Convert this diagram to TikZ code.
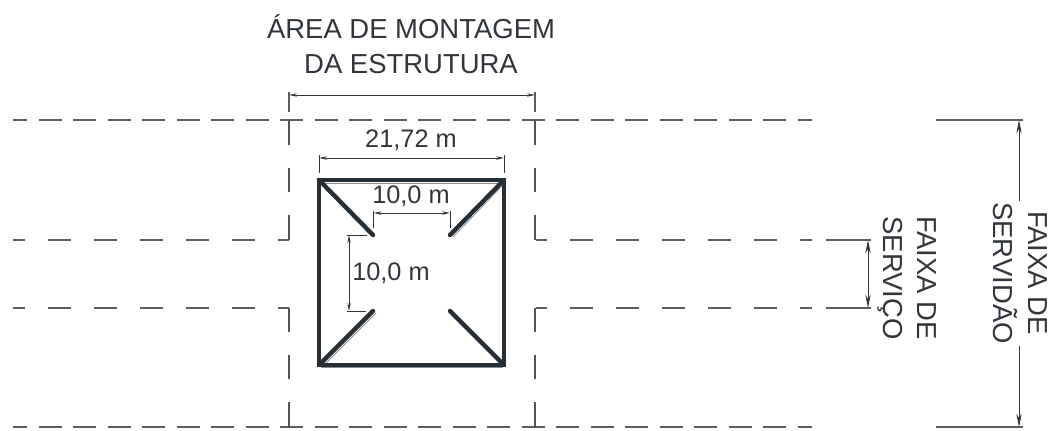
\documentclass[tikz,border=0pt]{standalone}
\usepackage{fontspec}
\setmainfont{Liberation Sans}
\usetikzlibrary{arrows.meta}
\definecolor{inkdark}{HTML}{262E36}
\definecolor{inkdim}{HTML}{30363C}
\definecolor{inkgrey}{HTML}{8A8D90}
\tikzset{
  limitline/.style={line width=0.85pt,color=inkdim!80},
  fence/.style={line width=0.85pt,color=inkdim!85,dash pattern=on 18.4pt off 17.25pt},
  longdash/.style={limitline,dash pattern=on 17.25pt off 17.25pt,dash phase=8.25pt},
  shortdash/.style={limitline,dash pattern=on 17.25pt off 8.625pt,dash phase=6.75pt},
  dimline/.style={line width=0.65pt,color=inkdim},
  dimtip/.style={dimline,{Stealth[length=6pt,width=2.6pt,open,fill=white]}-{Stealth[length=6pt,width=2.6pt,open,fill=white]}},
  bigtip/.style={dimline,{Stealth[length=10pt,width=4pt]}-{Stealth[length=10pt,width=4pt]}},
  tower/.style={line width=3.3pt,color=inkdark,line cap=round},
  thinedge/.style={line width=0.6pt,color=inkgrey},
  dimtext/.style={text=inkdim,font=\fontsize{19}{23}\selectfont,inner sep=0pt},
  bigtext/.style={text=inkdim,font=\fontsize{20.6}{26}\selectfont,align=center,inner sep=0pt},
}
\begin{document}
\begin{tikzpicture}[x=0.75pt,y=-0.75pt]
\useasboundingbox (0,0) rectangle (1056,430);

% faixa de servidao
\foreach \y in {120,427}
{
  \draw[shortdash] (13,\y) -- (812,\y);
  \draw[limitline] (936,\y) -- (1023,\y);
}

% faixa de servico
\foreach \y in {240,308}
{
  \draw[longdash] (13,\y) -- (255,\y);
  \draw[limitline] (278,\y) -- (289,\y);
  \draw[limitline] (536,\y) -- (547,\y);
  \draw[longdash,dash phase=0pt] (570,\y) -- (812,\y);
  \draw[limitline] (826,\y) -- (871,\y);
}

% area de montagem
\foreach \x in {289,535}
{
  \draw[limitline] (\x,92) -- (\x,112);
  \draw[fence] (\x,120) -- (\x,240);
  \draw[fence] (\x,427) -- (\x,308);
}

% torre
\draw[thinedge] (322,183) -- (501,183);
\draw[thinedge] (321,367) -- (503,367);
\draw[thinedge] (502,186) -- (453,237);
\draw[thinedge] (323,366) -- (376,313);
\draw[tower] (319,180) -- (504,180) -- (504,365) -- (319,365) -- cycle;
\draw[tower] (319,180) -- (373,235);
\draw[tower] (504,180) -- (450,235);
\draw[tower] (319,365) -- (373,311);
\draw[tower] (504,365) -- (450,311);

% cotas
\draw[dimline] (319,155) -- (319,173);
\draw[dimline] (504,155) -- (504,173);
\draw[dimtip] (319,158) -- (504,158);
\draw[dimline] (373.5,211) -- (373.5,228);
\draw[dimline] (450,211) -- (450,228);
\draw[dimtip] (373.5,213) -- (450,213);
\draw[dimline] (347,235) -- (367,235);
\draw[dimline] (347,311) -- (366,311);
\draw[dimtip] (349,235) -- (349,311);
\draw[dimtip] (289,95) -- (535,95);
\draw[bigtip] (868,240) -- (868,308);
\draw[dimline,{Stealth[length=10pt,width=4pt]}-] (1019,120) -- (1019,201);
\draw[dimline,-{Stealth[length=10pt,width=4pt]}] (1019,346) -- (1019,427);

\node[bigtext] (montagem) at (411,44){ÁREA DE MONTAGEM\\DA ESTRUTURA};
\node[dimtext] (largura) at (411,140){21,72 m};
\node[dimtext] (vaoh) at (411,196){10,0 m};
\node[dimtext,anchor=west] (vaov) at (352,273){10,0 m};
\node[bigtext,rotate=-90] (servico) at (907,278){FAIXA DE\\SERVIÇO};
\node[bigtext,rotate=-90] (servidao) at (1020,273){FAIXA DE\\SERVIDÃO};
\end{tikzpicture}
\end{document}
